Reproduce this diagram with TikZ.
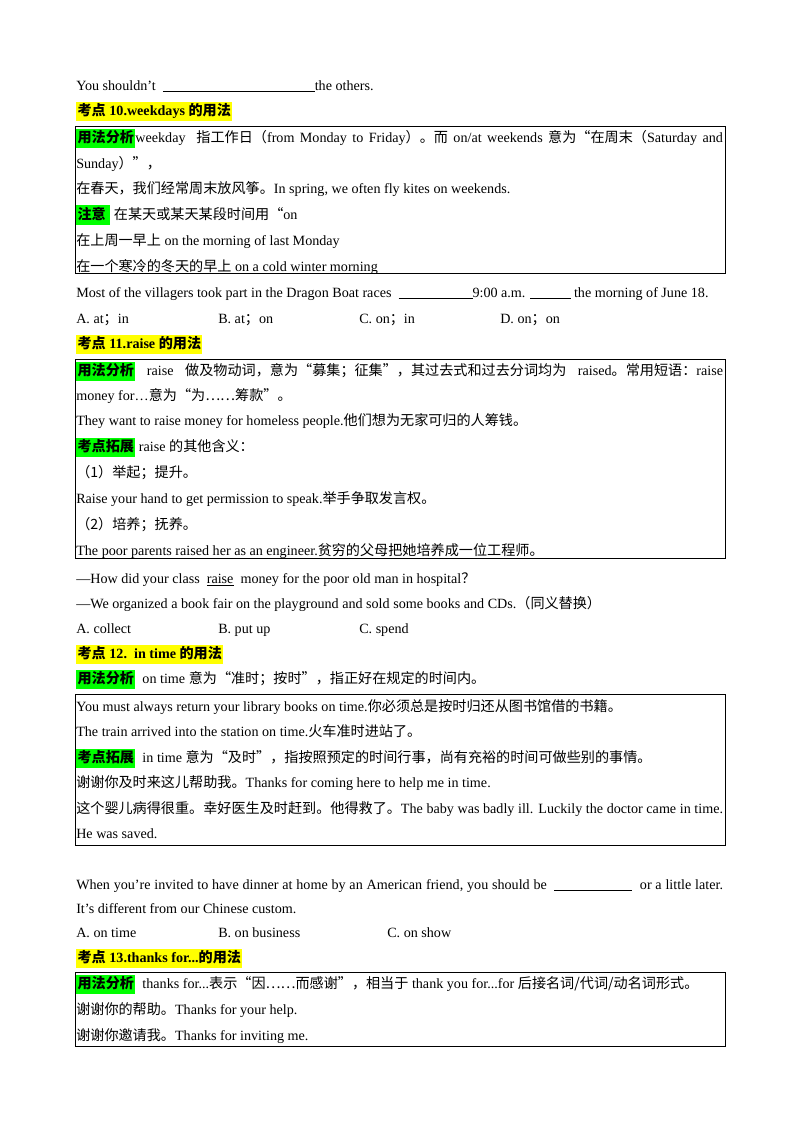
\documentclass[tikz,border=0pt]{standalone}
\usepackage{fontspec}
\setmainfont{Liberation Serif}
\newfontfamily\cjk{Noto Sans CJK SC}
\newcommand\zh[1]{{\cjk #1}}
\newcommand\zhb[1]{{\cjk\bfseries #1}}
\definecolor{hlgreen}{RGB}{0,255,0}
\definecolor{hlyellow}{RGB}{255,255,0}
\newcommand\hly[1]{{\setlength\fboxsep{1pt}\colorbox{hlyellow}{\strut #1}}}
\newcommand\hlg[1]{{\setlength\fboxsep{1pt}\colorbox{hlgreen}{\strut\zhb{#1}}}}
\newcommand\blank[1]{\rule[-1.5pt]{#1pt}{0.5pt}}
\newcommand\full[1]{\hbox to 481pt{#1}}
\tikzset{ln/.style={anchor=base west,inner sep=0pt,font=\fontsize{10.5}{12}\selectfont},
  box/.style={draw,line width=0.7pt}}
\newcommand\txl[3]{\node[ln] (#1) at (76,#2+5) {#3};}
\newcommand\txa[4]{\node[ln] (#1) at (#2,#3+5) {#4};}
\begin{document}
\begin{tikzpicture}[x=0.7437pt,y=-0.7437pt]
\useasboundingbox[fill=white] (0,0) rectangle (800,1132);
\txl{a1}{85}{You shouldn’t \ \blank{113}the others.}
\txl{h10}{110}{\hly{\zhb{考点} \textbf{10.weekdays} \zhb{的用法}}}
\draw[box] (75,126) rectangle (725,273);
\txl{b11}{137}{\full{\hlg{用法分析}weekday\ \ \zh{指工作日（}from Monday to Friday\zh{）。而} on/at weekends \zh{意为“在周末（}Saturday and}}
\txl{b12}{163}{Sunday\zh{）”，}}
\txl{b13}{188}{\zh{在春天，我们经常周末放风筝。}In spring, we often fly kites on weekends.}
\txl{b14}{214}{\hlg{注意\ } \zh{在某天或某天某段时间用“}on}
\txl{b15}{240}{\zh{在上周一早上} on the morning of last Monday}
\txl{b16}{266}{\zh{在一个寒冷的冬天的早上} on a cold winter morning}
\txl{q1}{292}{Most of the villagers took part in the Dragon Boat races \ \blank{55}9:00 a.m. \blank{30} the morning of June 18.}
\txl{o1a}{318}{A. at\zh{；}in}
\txa{o1b}{218}{318}{B. at\zh{；}on}
\txa{o1c}{359}{318}{C. on\zh{；}in}
\txa{o1d}{500}{318}{D. on\zh{；}on}
\txl{h11}{343}{\hly{\zhb{考点} \textbf{11.raise} \zhb{的用法}}}
\draw[box] (75,359) rectangle (725,558);
\txl{b21}{370}{\full{\hlg{用法分析} raise \zh{做及物动词，意为“募集；征集”，其过去式和过去分词均为} raised\zh{。常用短语：}raise}}
\txl{b22}{395}{money for…\zh{意为“为……筹款”。}}
\txl{b23}{420}{They want to raise money for homeless people.\zh{他们想为无家可归的人筹钱。}}
\txl{b24}{446}{\hlg{考点拓展} raise \zh{的其他含义：}}
\txl{b25}{472}{\zh{（1）举起；提升。}}
\txl{b26}{498}{Raise your hand to get permission to speak.\zh{举手争取发言权。}}
\txl{b27}{524}{\zh{（2）培养；抚养。}}
\txl{b28}{550}{The poor parents raised her as an engineer.\zh{贫穷的父母把她培养成一位工程师。}}
\txl{q2}{578}{—How did your class \ \underline{raise}\ \ money for the poor old man in hospital\zh{？}}
\txl{q2b}{603}{—We organized a book fair on the playground and sold some books and CDs.\zh{（同义替换）}}
\txl{o2a}{628}{A. collect}
\txa{o2b}{218}{628}{B. put up}
\txa{o2c}{359}{628}{C. spend}
\txl{h12}{653}{\hly{\zhb{考点} \textbf{12.\ \ in time} \zhb{的用法}}}
\txl{p12}{678}{\hlg{用法分析}\ \ on time \zh{意为“准时；按时”，指正好在规定的时间内。}}
\draw[box] (75,694) rectangle (725,845);
\txl{b31}{706}{You must always return your library books on time.\zh{你必须总是按时归还从图书馆借的书籍。}}
\txl{b32}{731}{The train arrived into the station on time.\zh{火车准时进站了。}}
\txl{b33}{757}{\hlg{考点拓展}\ \ in time \zh{意为“及时”，指按照预定的时间行事，尚有充裕的时间可做些别的事情。}}
\txl{b34}{782}{\zh{谢谢你及时来这儿帮助我。}Thanks for coming here to help me in time.}
\txl{b35}{808}{\full{\zh{这个婴儿病得很重。幸好医生及时赶到。他得救了。}The baby was badly ill. Luckily the doctor came in time.}}
\txl{b36}{833}{He was saved.}
\txl{q3}{884}{\full{When you’re invited to have dinner at home by an American friend, you should be \ \blank{58}\ \ or a little later.}}
\txl{q3b}{908}{It’s different from our Chinese custom.}
\txl{o3a}{932}{A. on time}
\txa{o3b}{218}{932}{B. on business}
\txa{o3c}{387}{932}{C. on show}
\txl{h13}{957}{\hly{\zhb{考点} \textbf{13.thanks for...}\zhb{的用法}}}
\draw[box] (75,972) rectangle (725,1046);
\txl{b41}{983}{\hlg{用法分析}\ \ thanks for...\zh{表示“因……而感谢”，相当于} thank you for...for \zh{后接名词/代词/动名词形式。}}
\txl{b42}{1009}{\zh{谢谢你的帮助。}Thanks for your help.}
\txl{b43}{1035}{\zh{谢谢你邀请我。}Thanks for inviting me.}
\end{tikzpicture}
\end{document}
